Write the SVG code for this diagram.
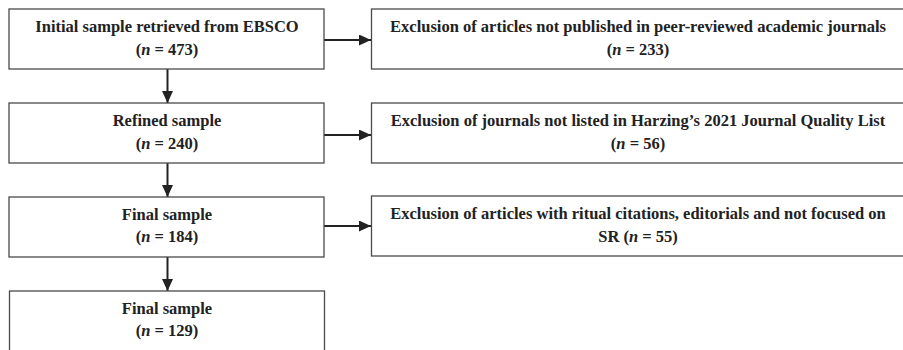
<svg xmlns="http://www.w3.org/2000/svg" width="903" height="350" viewBox="0 0 903 350">
<style>
.box{fill:#fff;stroke:#4a4a4a;stroke-width:1.3}
.t{font-family:"Liberation Serif","Times New Roman",serif;font-weight:bold;font-size:16.5px;fill:#222;text-anchor:middle}
.conn{stroke:#222;stroke-width:2;fill:none}
</style>
<defs>
<marker id="ah" markerWidth="13" markerHeight="12" refX="12" refY="5.5" orient="auto" markerUnits="userSpaceOnUse">
<path d="M0,0 L12,5.5 L0,11 Z" fill="#222"/>
</marker>
</defs>
<rect width="903" height="350" fill="#fff"/>
<g id="connectors">
<line class="conn" x1="324" y1="40" x2="371" y2="40" marker-end="url(#ah)"/>
<line class="conn" x1="324" y1="135" x2="371" y2="135" marker-end="url(#ah)"/>
<line class="conn" x1="324" y1="226" x2="371" y2="226" marker-end="url(#ah)"/>
<line class="conn" x1="167.5" y1="69" x2="167.5" y2="103" marker-end="url(#ah)"/>
<line class="conn" x1="167.5" y1="163" x2="167.5" y2="197" marker-end="url(#ah)"/>
<line class="conn" x1="167.5" y1="257" x2="167.5" y2="291" marker-end="url(#ah)"/>
</g>
<g id="initial">
<rect class="box" x="9" y="9" width="315" height="60"/>
<text class="t" x="167" y="32">Initial sample retrieved from EBSCO</text>
<text class="t" x="167" y="54.5">(<tspan font-style="italic">n</tspan> = 473)</text>
</g>
<g id="excl1">
<rect class="box" x="371.5" y="9" width="540" height="60"/>
<text class="t" x="638" y="32">Exclusion of articles not published in peer-reviewed academic journals</text>
<text class="t" x="638" y="54.5">(<tspan font-style="italic">n</tspan> = 233)</text>
</g>
<g id="refined">
<rect class="box" x="9" y="103" width="315" height="60"/>
<text class="t" x="167" y="126">Refined sample</text>
<text class="t" x="167" y="148.5">(<tspan font-style="italic">n</tspan> = 240)</text>
</g>
<g id="excl2">
<rect class="box" x="371.5" y="103" width="540" height="60"/>
<text class="t" x="638" y="126">Exclusion of journals not listed in Harzing’s 2021 Journal Quality List</text>
<text class="t" x="638" y="148.5">(<tspan font-style="italic">n</tspan> = 56)</text>
</g>
<g id="final1">
<rect class="box" x="9" y="197" width="315" height="60"/>
<text class="t" x="167" y="219.5">Final sample</text>
<text class="t" x="167" y="242">(<tspan font-style="italic">n</tspan> = 184)</text>
</g>
<g id="excl3">
<rect class="box" x="371.5" y="196" width="540" height="60"/>
<text class="t" x="638" y="219">Exclusion of articles with ritual citations, editorials and not focused on</text>
<text class="t" x="638" y="241.5">SR (<tspan font-style="italic">n</tspan> = 55)</text>
</g>
<g id="final2">
<rect class="box" x="9.5" y="291" width="315" height="80"/>
<text class="t" x="167" y="313.5">Final sample</text>
<text class="t" x="167" y="336">(<tspan font-style="italic">n</tspan> = 129)</text>
</g>
</svg>
